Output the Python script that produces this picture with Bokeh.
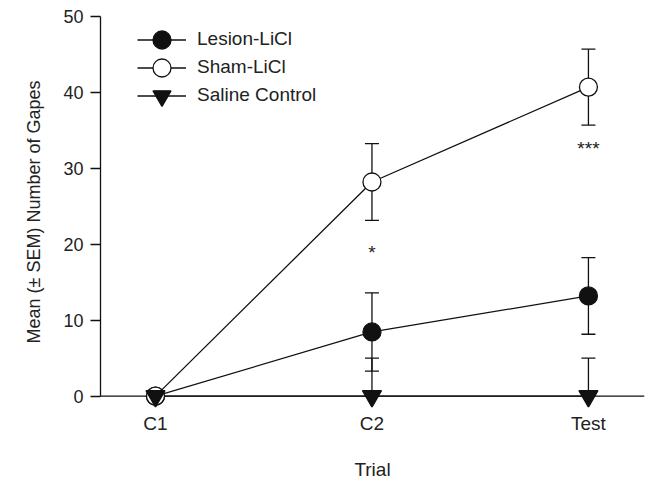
import numpy as np
from bokeh.plotting import figure
from bokeh.models import (ColumnDataSource, Whisker, TeeHead, Legend, LegendItem,
                          FixedTicker, Range1d, Span)
from bokeh.core.properties import value
from bokeh.embed import file_html
from bokeh.resources import INLINE

# ---------------- data ----------------
trials = ["C1", "C2", "Test"]
lesion_mean = [0.0, 8.45, 13.2]
lesion_sem = [0.0, 5.15, 5.05]
sham_mean = [0.0, 28.2, 40.7]
sham_sem = [0.0, 5.05, 5.0]
saline_mean = [0.0, 0.0, 0.0]
saline_sem = [0.0, 5.0, 5.0]
series_names = ["Lesion-LiCl", "Sham-LiCl", "Saline Control"]
sig_labels = ["", "*", "***"]
sig_y = [np.nan, 18.9, 32.6]
y_ticks = [0, 10, 20, 30, 40, 50]

FONT = "Liberation Sans"
TXT = "#222222"
INK = "#111111"
x_idx = list(range(len(trials)))

W, H = 649, 483
TOP, BOTTOM_PX = 16, 407          # frame top / bottom in pixels
FRAME_H = BOTTOM_PX - TOP


def src(mean, sem):
    m = np.array(mean)
    s = np.array(sem)
    return ColumnDataSource(dict(x=x_idx, y=m, upper=m + s,
                                 lower=np.maximum(m - s, 0.0)))


lesion = src(lesion_mean, lesion_sem)
sham = src(sham_mean, sham_sem)
saline = src(saline_mean, saline_sem)

p = figure(width=W, height=H, output_backend="svg", toolbar_location=None,
           x_range=Range1d(-0.254, 2.259), y_range=Range1d(-1.5, 50),
           min_border_left=100, min_border_right=5, min_border_top=TOP,
           min_border_bottom=H - BOTTOM_PX)
p.outline_line_color = None
p.grid.visible = False
p.background_fill_color = "white"

# x axis line at y = 0 (under the markers)
p.add_layout(Span(location=0, dimension="width", line_color=INK,
                  line_width=1.3, level="underlay"))

# whiskers (under markers)
for s in (lesion, sham, saline):
    w = Whisker(base="x", upper="upper", lower="lower", source=s,
                line_color=INK, line_width=1.3, level="underlay",
                upper_head=TeeHead(size=14, line_color=INK, line_width=1.3),
                lower_head=TeeHead(size=14, line_color=INK, line_width=1.3))
    p.add_layout(w)

l_line = p.line("x", "y", source=lesion, line_color=INK, line_width=1.3)
s_line = p.line("x", "y", source=sham, line_color=INK, line_width=1.3)
v_line = p.line("x", "y", source=saline, line_color=INK, line_width=1.3)

l_pts = p.scatter("x", "y", source=lesion, marker="circle", size=18,
                  fill_color=INK, line_color=INK, line_width=1.3)
s_pts = p.scatter("x", "y", source=sham, marker="circle", size=18,
                  fill_color="white", line_color=INK, line_width=1.3)
v_pts = p.scatter("x", "y", source=saline, marker="inverted_triangle", size=19,
                  fill_color=INK, line_color=INK, line_width=1.3)

sig = ColumnDataSource(dict(x=x_idx, y=sig_y, t=sig_labels))
p.text("x", "y", text="t", source=sig, text_align="center",
       text_baseline="middle", text_font=value(FONT),
       text_font_size="19px", text_color=TXT)

# axes
p.yaxis.ticker = FixedTicker(ticks=y_ticks)
p.yaxis.bounds = (0, 50)
p.yaxis.major_tick_out = 10
p.yaxis.major_tick_in = 0
p.yaxis.minor_tick_line_color = None
p.yaxis.major_label_standoff = 7
p.yaxis.axis_label = "Mean (\u00b1 SEM) Number of Gapes"
p.yaxis.axis_label_standoff = 16
p.yaxis.major_tick_line_color = INK
p.yaxis.axis_line_color = INK

p.xaxis.ticker = FixedTicker(ticks=x_idx)
p.xaxis.major_label_overrides = {i: t for i, t in zip(x_idx, trials)}
p.xaxis.axis_line_color = None
p.xaxis.major_tick_line_color = None
p.xaxis.major_tick_out = 0
p.xaxis.major_tick_in = 0
p.xaxis.minor_tick_line_color = None
p.xaxis.major_label_standoff = 5
p.xaxis.axis_label = "Trial"
p.xaxis.axis_label_standoff = 22

for ax in (p.xaxis, p.yaxis):
    ax.axis_line_width = 1.3
    ax.major_tick_line_width = 1.3
    ax.major_label_text_font = FONT
    ax.major_label_text_color = TXT
    ax.axis_label_text_font = FONT
    ax.axis_label_text_font_style = "normal"
    ax.axis_label_text_color = TXT
p.yaxis.major_label_text_font_size = "18px"
p.xaxis.major_label_text_font_size = "19px"
p.yaxis.axis_label_text_font_size = "18px"
p.xaxis.axis_label_text_font_size = "19px"

# legend: one legend per row so that keys keep full marker size
row_centers = [39, 67, 95]          # pixel centres of rows
GH = 45
for name, rends, cy in zip(series_names,
                           [[l_line, l_pts], [s_line, s_pts], [v_line, v_pts]],
                           row_centers):
    top = cy - GH / 2
    leg = Legend(items=[LegendItem(label=name, renderers=rends)],
                 location=(37, FRAME_H - (top - TOP) - GH),
                 glyph_width=49, glyph_height=GH, padding=0, margin=0,
                 label_standoff=11, border_line_color=None,
                 background_fill_alpha=0, label_text_font=FONT,
                 label_text_font_size="19px", label_text_color=TXT)
    p.add_layout(leg)

open("out.html", "w").write(file_html(p, INLINE))
